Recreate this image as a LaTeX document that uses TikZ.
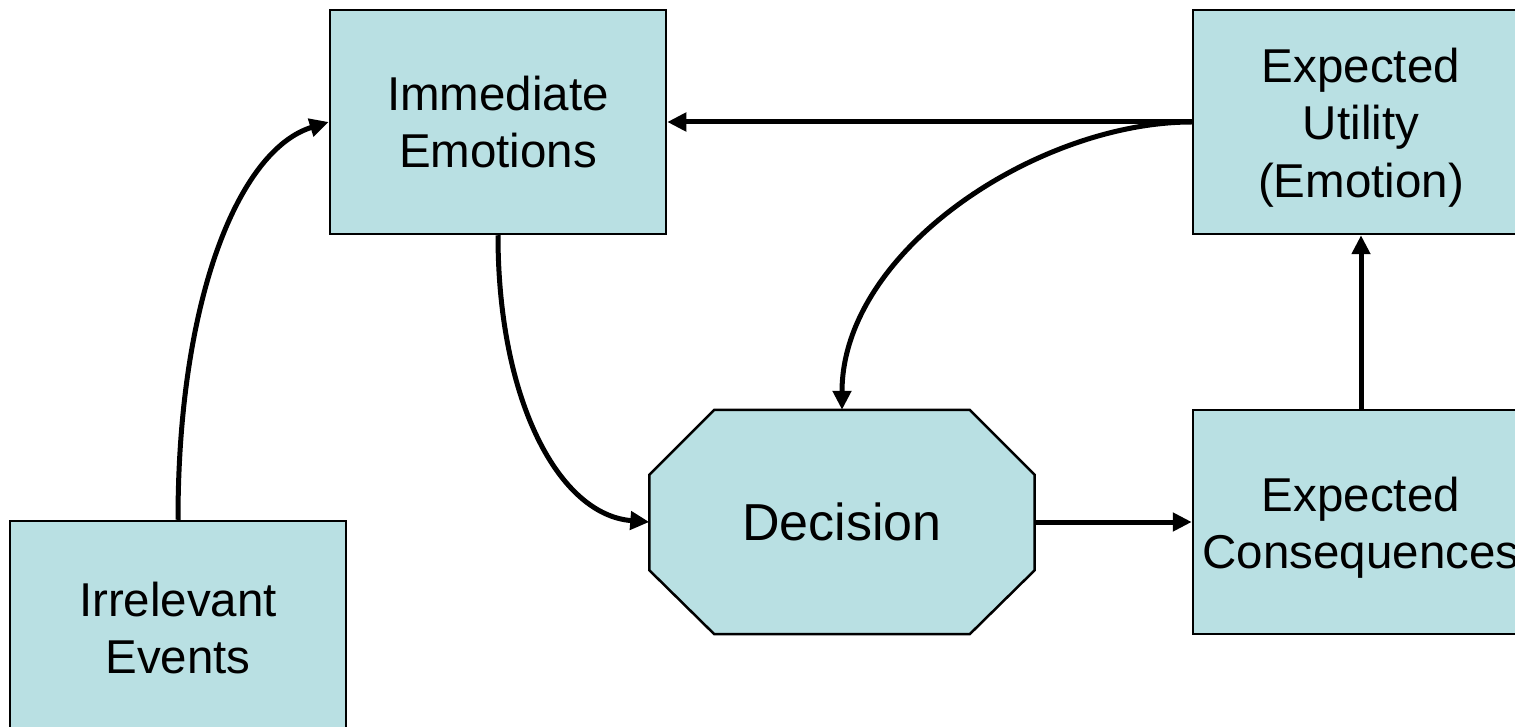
\documentclass[tikz,border=0pt]{standalone}
\usepackage{fontspec}
\setmainfont{Liberation Sans}
\usetikzlibrary{arrows.meta,calc}
\definecolor{boxfill}{RGB}{185,224,227}
\tikzset{
  box/.style={draw=black, line width=2.5pt, fill=boxfill, minimum width=336pt, minimum height=224pt,
    inner sep=0pt, align=center, font=\fontsize{47.5}{57.5}\selectfont},
  octa/.style={draw=black, line width=2.5pt, fill=boxfill},
  conn/.style={line width=5pt, -{Triangle[length=19pt,width=18pt]}},
}
\begin{document}
\begin{tikzpicture}[x=1pt,y=-1pt]
\useasboundingbox (0,0) rectangle (1515,727);
\clip (0,0) rectangle (1515,727);
\node[box] (imm) at (498,122) {Immediate\\Emotions};
\node[box] (eu) at (1361,122) {\\[-12pt]Expected\\Utility\\(Emotion)};
\node[box] (ec) at (1361,522) {\\[-12pt]Expected\\Consequences};
\node[box, minimum height=214pt] (ie) at (178,628) {Irrelevant\\Events};
\node[minimum width=385pt, minimum height=224pt, inner sep=0pt] (dec) at (842,522) {};
\draw[octa] ($(dec.north west)+(65,0)$) -- ($(dec.north east)+(-65,0)$) -- ($(dec.north east)+(0,65)$)
  -- ($(dec.south east)+(0,-64)$) -- ($(dec.south east)+(-65,0)$) -- ($(dec.south west)+(65,0)$)
  -- ($(dec.south west)+(0,-64)$) -- ($(dec.north west)+(0,65)$) -- cycle;
\node[font=\fontsize{52}{60}\selectfont] (dectext) at (dec.center) {Decision};
\draw[conn] (ie.north) .. controls +(0,-221) and +(-90,28) .. (imm.west);
\draw[conn] (imm.south) .. controls +(0,166) and +(-90,-7) .. (dec.west);
\draw[conn] (eu.west) -- (imm.east);
\draw[conn] (eu.west) .. controls +(-153,0) and +(0,-160) .. (dec.north);
\draw[conn] (dec.east) -- (ec.west);
\draw[conn] (ec.north) -- (eu.south);
\end{tikzpicture}
\end{document}
